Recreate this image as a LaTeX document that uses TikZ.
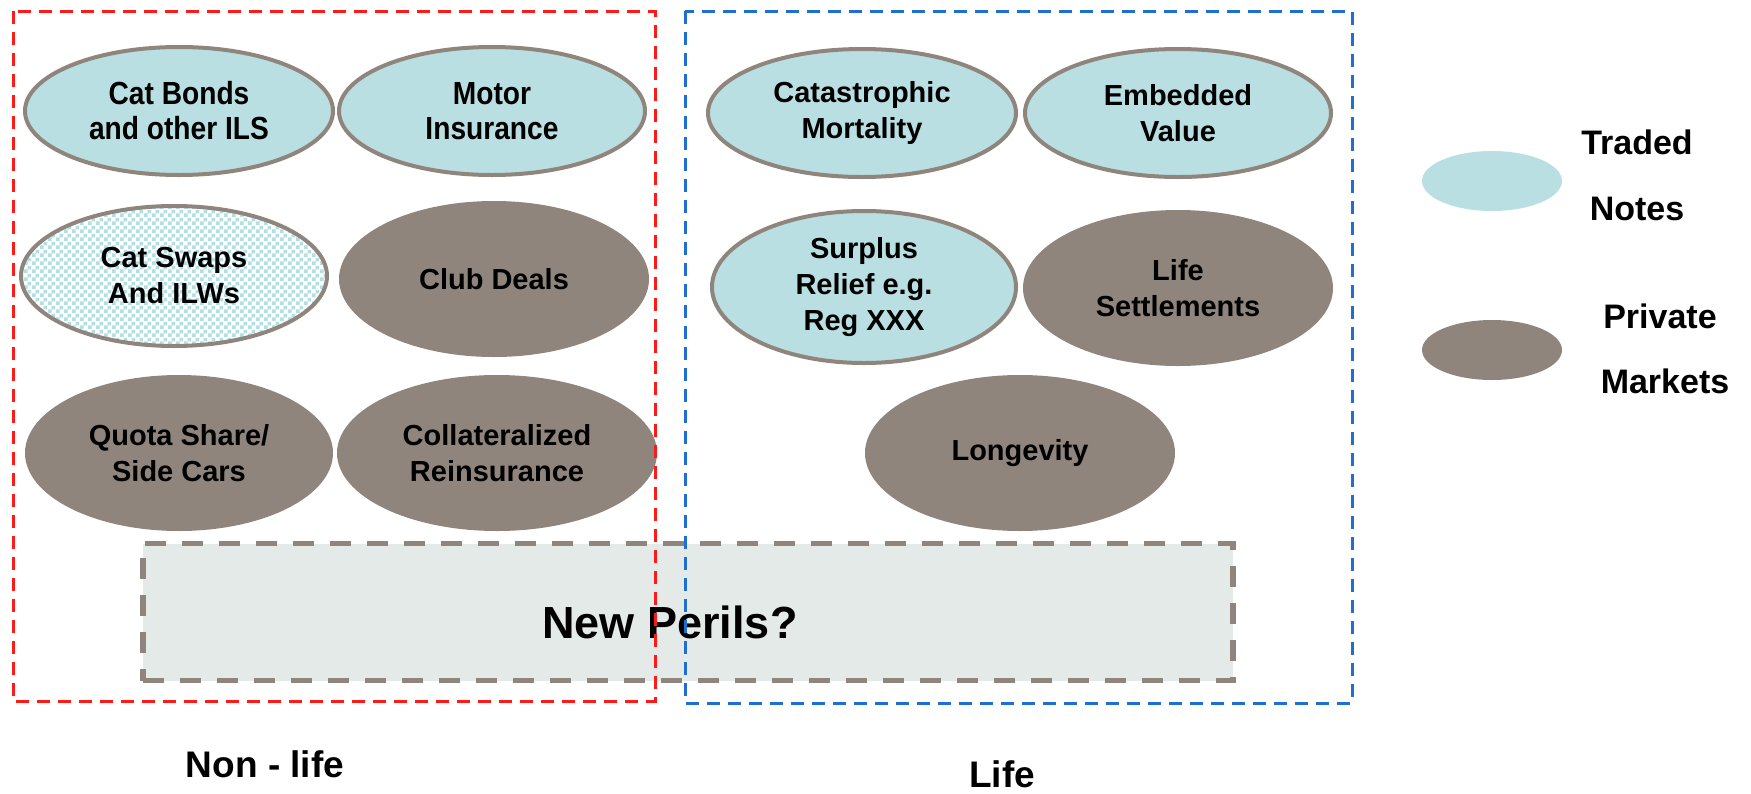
\documentclass[tikz,border=0pt]{standalone}
\usepackage{fontspec}
\setmainfont{Liberation Sans}
\newfontfamily\narrowfont[FakeStretch=0.88]{Liberation Sans}
\usetikzlibrary{shapes.geometric,patterns}
\pgfdeclarepatternformonly{bigchecker}{\pgfpointorigin}{\pgfqpoint{8pt}{8pt}}{\pgfqpoint{8pt}{8pt}}{%
  \pgfpathrectangle{\pgfpointorigin}{\pgfqpoint{4pt}{4pt}}%
  \pgfpathrectangle{\pgfqpoint{4pt}{4pt}}{\pgfqpoint{4pt}{4pt}}%
  \pgfusepath{fill}}
\definecolor{tealfill}{HTML}{B9DFE2}
\definecolor{brownfill}{HTML}{8F857D}
\definecolor{brownline}{HTML}{8F857D}
\definecolor{checkblue}{HTML}{B3DEE2}
\definecolor{perilfill}{HTML}{E3EAE8}
\definecolor{redbox}{HTML}{FF1A1A}
\definecolor{bluebox}{HTML}{1F6FD0}
\tikzset{
  oval/.style={ellipse, inner sep=0pt, align=center, line width=4pt,
    font=\bfseries\fontsize{29}{36}\selectfont},
  traded/.style={oval, draw=brownline, fill=tealfill},
  narrowtraded/.style={traded, font=\narrowfont\bfseries\fontsize{32}{35}\selectfont},
  private/.style={oval, fill=brownfill},
  swap/.style={oval, draw=brownline, preaction={fill=white}, pattern=bigchecker, pattern color=checkblue},
  legendoval/.style={ellipse, inner sep=0pt, minimum width=140pt, minimum height=60pt},
  legendtext/.style={font=\bfseries\fontsize{34}{40}\selectfont},
  grouplabel/.style={font=\bfseries\fontsize{37}{40}\selectfont},
  groupbox/.style={line width=3pt, dash pattern=on 13pt off 8pt},
}
\begin{document}
\begin{tikzpicture}[x=1pt,y=-1pt]
\useasboundingbox (0,0) rectangle (1751,793);

% New Perils box
\node[draw=brownline, fill=perilfill, line width=5.5pt, dash pattern=on 21pt off 16pt,
  minimum width=1090pt, minimum height=137pt, inner sep=0pt] (perils) at (688,612) {};
\node[font=\bfseries\fontsize{45}{50}\selectfont] (perilstext) at (670,622) {New Perils?};

% Non-life ellipses
\node[narrowtraded, minimum width=308pt, minimum height=128pt] (catbonds) at (179,111) {Cat Bonds\\and other ILS};
\node[narrowtraded, minimum width=306pt, minimum height=128pt] (motor) at (492,111) {Motor\\Insurance};
\node[swap, minimum width=306pt, minimum height=140pt] (catswaps) at (174,276) {Cat Swaps\\And ILWs};
\node[private, minimum width=310pt, minimum height=156pt] (club) at (494,279) {Club Deals};
\node[private, minimum width=308pt, minimum height=156pt] (quota) at (179,453) {Quota Share/\\Side Cars};
\node[private, minimum width=320pt, minimum height=156pt] (collat) at (497,453) {Collateralized\\Reinsurance};

% Life ellipses
\node[traded, minimum width=308pt, minimum height=128pt] (catmort) at (862,113) {Catastrophic\\Mortality};
\node[traded, minimum width=306pt, minimum height=128pt] (embedded) at (1178,113) {Embedded\\Value};
\node[traded, minimum width=304pt, minimum height=152pt] (surplus) at (864,287) {Surplus\\Relief e.g.\\Reg XXX};
\node[private, minimum width=310pt, minimum height=156pt] (lifeset) at (1178,288) {Life\\Settlements};
\node[private, minimum width=310pt, minimum height=156pt] (longevity) at (1020,453) {Longevity};

% Group boxes
\draw[groupbox, draw=redbox] (13,11) rectangle (655,701);
\draw[groupbox, draw=bluebox] (685,11) rectangle (1352,703);

% Group labels
\node[grouplabel] (nonlife) at (265,764) {Non - life};
\node[grouplabel] (life) at (1002,774) {Life};

% Legend
\node[legendoval, fill=tealfill] (legtraded) at (1492,181) {};
\node[legendoval, fill=brownfill] (legprivate) at (1492,350) {};
\node[legendtext] (ltraded1) at (1637,142) {Traded};
\node[legendtext] (ltraded2) at (1637,209) {Notes};
\node[legendtext] (lprivate1) at (1660,316) {Private};
\node[legendtext] (lprivate2) at (1665,381) {Markets};
\end{tikzpicture}
\end{document}
